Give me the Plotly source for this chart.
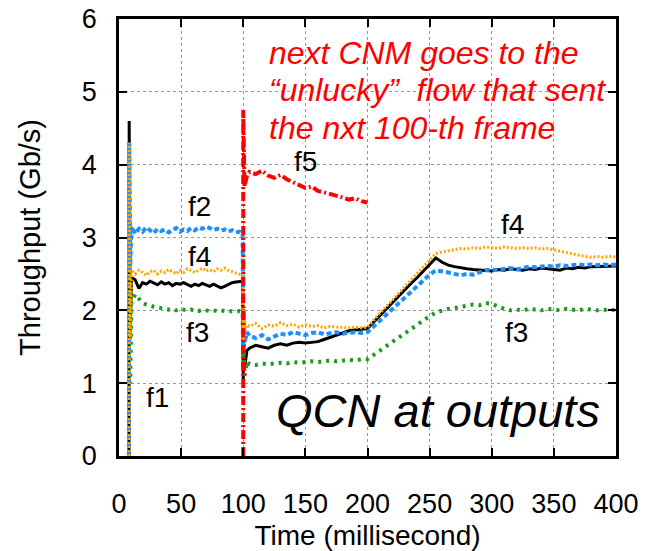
import plotly.graph_objects as go

# ---------------- data ----------------
t_a = [8, 8.2, 9, 10, 13, 16, 19, 22, 25, 28, 31, 34, 37, 40, 43, 46, 49, 52, 55, 58,
       61, 64, 67, 70, 73, 76, 79, 82, 85, 88, 91, 94, 97, 99.5]
t_b = [100, 100.3, 101, 103, 105, 110, 115, 120, 125, 130, 135, 140, 145, 150, 155, 160,
       165, 170, 175, 180, 185, 190, 195, 200, 205, 210, 215, 220, 225, 230, 235, 240,
       245, 250, 255, 260, 265, 270, 275, 280, 285, 290, 295, 300, 305, 310, 315, 320,
       325, 330, 335, 340, 345, 350, 355, 360, 365, 370, 375, 380, 385, 390, 395, 400]
time_ms = t_a + t_b

f1 = [0, 4.6, 1.6, 2.45, 2.42, 2.3, 2.38, 2.36, 2.4, 2.37, 2.35, 2.39, 2.36, 2.38, 2.34,
      2.37, 2.36, 2.38, 2.35, 2.33, 2.36, 2.34, 2.37, 2.35, 2.33, 2.36, 2.34, 2.31, 2.33,
      2.36, 2.38, 2.39, 2.4, 2.4,
      1.05, 1.5, 1.2, 1.45, 1.48, 1.52, 1.5, 1.48, 1.52, 1.54, 1.52, 1.55, 1.56, 1.55,
      1.56, 1.57, 1.6, 1.63, 1.66, 1.7, 1.72, 1.73, 1.74, 1.75, 1.84, 1.93, 2.02, 2.1,
      2.19, 2.28, 2.37, 2.45, 2.54, 2.63, 2.72, 2.66, 2.62, 2.6, 2.58, 2.57, 2.56, 2.55,
      2.55, 2.54, 2.56, 2.55, 2.57, 2.56, 2.55, 2.57, 2.56, 2.58, 2.57, 2.56, 2.55, 2.58,
      2.57, 2.59, 2.58, 2.6, 2.6, 2.61, 2.6, 2.61]

f2 = [0, 4.3, 2.6, 3.15, 3.05, 3.12, 3.08, 3.14, 3.1, 3.06, 3.12, 3.09, 3.11, 3.07, 3.1,
      3.13, 3.08, 3.11, 3.09, 3.13, 3.1, 3.14, 3.12, 3.15, 3.13, 3.1, 3.12, 3.09, 3.11,
      3.08, 3.1, 3.07, 3.08, 3.05,
      1.5, 2.0, 1.55, 1.7, 1.65, 1.62, 1.66, 1.6, 1.64, 1.68, 1.66, 1.7, 1.68, 1.66,
      1.69, 1.7, 1.67, 1.69, 1.7, 1.68, 1.69, 1.7, 1.69, 1.7, 1.78, 1.86, 1.93, 2.01,
      2.09, 2.17, 2.25, 2.33, 2.41, 2.49, 2.55, 2.54, 2.52, 2.5, 2.48, 2.5, 2.49, 2.52,
      2.55, 2.56, 2.55, 2.57, 2.58, 2.56, 2.58, 2.6, 2.59, 2.6, 2.61, 2.6, 2.62, 2.61,
      2.62, 2.63, 2.62, 2.63, 2.62, 2.63, 2.62, 2.63]

f3 = [0, 4.3, 1.0, 2.1, 2.22, 2.15, 2.1, 2.08, 2.06, 2.05, 2.04, 2.03, 2.03, 2.01, 2.02,
      2.0, 2.02, 2.01, 2.0, 2.01, 2.0, 1.99, 2.01, 2.0, 1.99, 2.0, 1.99, 2.0, 1.99, 1.98,
      1.99, 1.98, 1.99, 1.98,
      1.2, 1.6, 1.1, 1.3, 1.26, 1.25, 1.27, 1.26, 1.27, 1.28, 1.27, 1.29, 1.28, 1.29,
      1.3, 1.29, 1.3, 1.31, 1.3, 1.31, 1.32, 1.31, 1.33, 1.33, 1.39, 1.44, 1.5, 1.56,
      1.62, 1.68, 1.74, 1.8, 1.86, 1.92, 1.97, 2.0, 2.02, 2.03, 2.05, 2.06, 2.08, 2.07,
      2.1, 2.09, 2.05, 2.02, 2.0, 2.01, 2.0, 2.02, 2.01, 2.0, 2.02, 2.01, 2.0, 2.02,
      2.01, 2.0, 2.02, 2.01, 2.0, 2.01, 2.0, 2.01]

f4 = [0, 4.3, 1.6, 2.55, 2.5, 2.55, 2.52, 2.48, 2.53, 2.55, 2.5, 2.54, 2.52, 2.56, 2.53,
      2.5, 2.55, 2.52, 2.57, 2.54, 2.52, 2.55, 2.58, 2.54, 2.56, 2.53, 2.57, 2.55, 2.58,
      2.55, 2.53, 2.52, 2.5, 2.48,
      1.6, 2.0, 1.7, 1.8, 1.78, 1.82, 1.75, 1.8, 1.78, 1.83, 1.79, 1.81, 1.77, 1.8,
      1.78, 1.79, 1.76, 1.78, 1.77, 1.76, 1.76, 1.77, 1.76, 1.77, 1.87, 1.96, 2.05, 2.14,
      2.23, 2.32, 2.41, 2.5, 2.59, 2.68, 2.78, 2.8, 2.82, 2.83, 2.85, 2.84, 2.86, 2.85,
      2.87, 2.86, 2.85, 2.87, 2.86, 2.85, 2.86, 2.85, 2.86, 2.84, 2.85, 2.83, 2.82, 2.8,
      2.78, 2.75, 2.74, 2.73, 2.74, 2.73, 2.74, 2.73]

t_f5 = [100, 100, 101, 103, 105, 110, 115, 120, 125, 130, 135, 140, 145, 150, 155, 160,
        165, 170, 175, 180, 185, 190, 195, 200]
f5 = [0, 4.75, 3.7, 3.85, 3.9, 3.87, 3.92, 3.85, 3.82, 3.86, 3.8, 3.76, 3.72, 3.68,
      3.7, 3.64, 3.62, 3.6, 3.58, 3.55, 3.52, 3.54, 3.5, 3.48]

x_ticks = [0, 50, 100, 150, 200, 250, 300, 350, 400]
y_ticks = [0, 1, 2, 3, 4, 5, 6]

FONT = "Liberation Sans, Arial, Helvetica, sans-serif"

fig = go.Figure()
fig.add_trace(go.Scatter(x=time_ms, y=f1, mode="lines", name="f1",
                         line=dict(color="black", width=3)))
fig.add_trace(go.Scatter(x=time_ms, y=f3, mode="lines", name="f3",
                         line=dict(color="#1f9a1f", width=4, dash="3px,5px")))
fig.add_trace(go.Scatter(x=time_ms, y=f2, mode="lines", name="f2",
                         line=dict(color="#1e8fff", width=4, dash="5px,3px")))
fig.add_trace(go.Scatter(x=time_ms, y=f4, mode="lines", name="f4",
                         line=dict(color="#ffa500", width=3, dash="2px,2px")))
fig.add_trace(go.Scatter(x=t_f5, y=f5, mode="lines", name="f5",
                         line=dict(color="#ff0000", width=4, dash="9px,3px,2px,3px")))

labels = [
    ("f5", 150, 4.05), ("f2", 65, 3.42), ("f4", 65, 2.74), ("f3", 63.5, 1.7),
    ("f1", 31, 0.81), ("f4", 317, 3.18), ("f3", 320, 1.7),
]
for txt, x, y in labels:
    fig.add_annotation(x=x, y=y, text=txt, showarrow=False,
                       font=dict(family=FONT, size=28, color="black"))

red_lines = [("next CNM goes to the", 5.54), ("\u201cunlucky\u201d  flow that sent", 5.02),
             ("the nxt 100-th frame", 4.5)]
for txt, y in red_lines:
    fig.add_annotation(x=119.5, y=y, text="<i>" + txt + "</i>", showarrow=False,
                       xanchor="left", font=dict(family=FONT, size=32, color="#ff0000"))

fig.add_annotation(x=257, y=0.62, text="<i>QCN at outputs</i>", showarrow=False,
                   font=dict(family=FONT, size=47, color="black"))

axis_common = dict(showline=True, linecolor="black", linewidth=2.5, mirror="ticks",
                   ticks="inside", ticklen=8, tickwidth=2, tickcolor="black",
                   showgrid=True, gridcolor="#999999", gridwidth=1, griddash="dot",
                   zeroline=False, automargin=False,
                   tickfont=dict(family=FONT, size=27, color="black"))

fig.update_xaxes(range=[0, 400], tickvals=x_ticks, ticktext=[str(v) for v in x_ticks],
                 ticklabelstandoff=22,
                 title=dict(text="Time (millisecond)", standoff=12,
                            font=dict(family=FONT, size=28, color="black")),
                 **axis_common)
fig.update_yaxes(range=[0, 6], tickvals=y_ticks, ticktext=[str(v) for v in y_ticks],
                 ticklabelstandoff=14,
                 title=dict(text="Throughput (Gb/s)", standoff=33,
                            font=dict(family=FONT, size=29, color="black")),
                 **axis_common)

fig.update_layout(width=648, height=551, showlegend=False,
                  margin=dict(l=119, r=32, t=19, b=95),
                  paper_bgcolor="white", plot_bgcolor="white")

fig.write_html("out.html")
